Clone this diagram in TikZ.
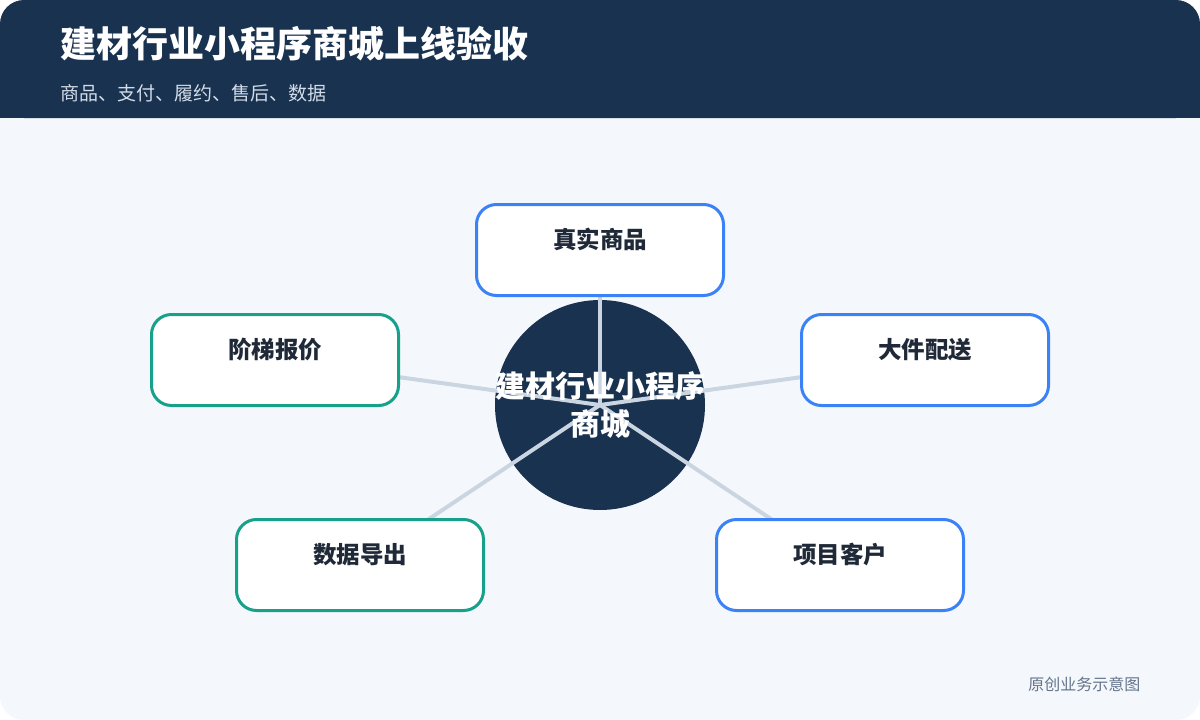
\documentclass[tikz,border=0pt]{standalone}
\usepackage{fontspec}
\setmainfont{Noto Sans CJK SC}
\usepackage{tikz, xcolor}
\usetikzlibrary{backgrounds}

\definecolor{navy}{HTML}{183250}
\definecolor{pagebg}{HTML}{F4F8FC}
\definecolor{linkgray}{HTML}{CBD5E1}
\definecolor{cardblue}{HTML}{3B82F6}
\definecolor{cardteal}{HTML}{17A08A}
\definecolor{inkdark}{HTML}{1F2937}
\definecolor{subgray}{HTML}{D3DCE8}
\definecolor{footgray}{HTML}{64748B}

\tikzset{
  card/.style={draw=#1, fill=white, line width=3pt, rounded corners=20pt,
    minimum width=247pt, minimum height=91pt},
  cardtext/.style={text=inkdark, font=\bfseries\fontsize{23.5}{28}\selectfont},
  hubtext/.style={circle, minimum size=210pt, text=white, align=center,
    font=\bfseries\fontsize{30}{38}\selectfont},
  link/.style={draw=linkgray, line width=4pt}
}

\begin{document}
\begin{tikzpicture}[x=1pt, y=-1pt]
    \useasboundingbox (0, 0) rectangle (1200, 720);
    \begin{scope}[on background layer]
      \fill [white] (0, 0) rectangle (1200, 720);
      \fill [pagebg, rounded corners=24pt] (0, 0) rectangle (1200, 720);
      \fill [navy, rounded corners=24pt] (0, 0) rectangle (1200, 118);
      \fill [navy] (0, 60) rectangle (1200, 118);
    \end{scope}

    \node [anchor=west, text=white, font=\bfseries\fontsize{36}{40}\selectfont] (title) at (57, 44) {建材行业小程序商城上线验收};
    \node [anchor=west, text=subgray, font=\fontsize{19}{22}\selectfont] (subtitle) at (57, 93) {商品、支付、履约、售后、数据};

    \node [hubtext] (hub) at (600, 405) {建材行业小程序\\商城};

    \node [card=cardblue] (goods) at (600, 250) {};
    \node [card=cardteal] (price) at (275, 360) {};
    \node [card=cardblue] (ship) at (925, 360) {};
    \node [card=cardteal] (export) at (360, 565) {};
    \node [card=cardblue] (client) at (840, 565) {};

    \node [cardtext] (goodstxt) at ([yshift=-36pt]goods.north) {真实商品};
    \node [cardtext] (pricetxt) at ([yshift=-37pt]price.north) {阶梯报价};
    \node [cardtext] (shiptxt) at ([yshift=-37pt]ship.north) {大件配送};
    \node [cardtext] (exporttxt) at ([yshift=-37pt]export.north) {数据导出};
    \node [cardtext] (clienttxt) at ([yshift=-37pt]client.north) {项目客户};

    \begin{scope}[on background layer]
      \fill [navy] (hub.center) circle (105);
      \draw [link] (hub.center) -- (goods.center);
      \draw [link] (hub.center) -- (price.center);
      \draw [link] (hub.center) -- (ship.center);
      \draw [link] (hub.center) -- (export.center);
      \draw [link] (hub.center) -- (client.center);
    \end{scope}

    \node [anchor=east, text=footgray, font=\fontsize{16}{19}\selectfont] (note) at (1144, 684) {原创业务示意图};

  \end{tikzpicture}
\end{document}
